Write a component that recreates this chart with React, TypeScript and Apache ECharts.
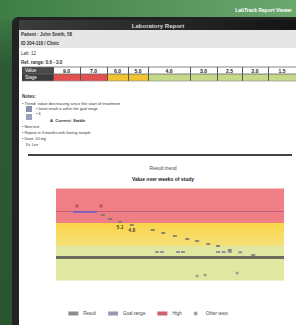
import React, { useEffect, useRef } from "react";
import * as echarts from "echarts";

// ---- data ----
const xLabelValues = [0, 1, 8, 18, 28, 30];
const trendX = [3.1, 3.7, 4.4, 5.0, 5.7, 6.3, 7.6, 8.8, 10.4, 12.3, 15.7, 17.4, 19.3, 21.3, 22.9, 24.7, 26.3, 28.2, 32.0];
const trendY = [5.96, 5.96, 5.96, 5.96, 5.96, 5.96, 5.7, 5.35, 5.09, 4.83, 4.39, 4.13, 3.87, 3.61, 3.43, 3.17, 3.0, 2.65, 2.22];
const targetX = [16.4, 17.2, 19.8, 20.6, 26.3, 27.2, 28.2, 29.9];
const targetY = [2.48, 2.48, 2.48, 2.48, 2.48, 2.48, 2.48, 2.45];
const lowX = [22.9, 24.2, 29.4];
const lowY = [0.39, 0.48, 0.65];
const highX = [3.4, 7.3];
const highY = [6.48, 6.48];
const bandRed = [5, 8];
const bandYellow = [3, 5];
const bandGreen = [0, 3];
const upperLimit = 6;
const goalLine = 2;
const labelledPoints = [8, 9];
const seriesNames = ["Result", "Goal range", "High", "Other tests"];
const tableHeader = ["9.0", "7.0", "6.0", "5.0", "4.0", "3.0", "2.5", "2.0", "1.5"];
const tableRowLabels = ["Value", "Stage"];

const FONT = "Liberation Sans";

function txt(x: number, y: number, text: string, o: any = {}) {
  return {
    type: "text",
    x,
    y,
    z: 5,
    style: {
      text,
      fontSize: o.size ?? 5,
      fontFamily: FONT,
      fontWeight: o.bold ? "bold" : "normal",
      fill: o.fill ?? "#333",
      textAlign: o.align ?? "left",
      textVerticalAlign: "middle",
    },
  };
}

function rect(x: number, y: number, w: number, h: number, fill: any, o: any = {}) {
  return {
    type: "rect",
    z: o.z ?? 1,
    shape: { x, y, width: w, height: h, r: o.r ?? 0 },
    style: { fill, stroke: o.stroke, lineWidth: o.lw ?? 0 },
  };
}

function buildGraphic() {
  const g: any[] = [];
  // green background
  g.push(
    rect(0, 0, 296, 325, new echarts.graphic.LinearGradient(0, 0, 0, 1, [
      { offset: 0, color: "#4f8e56" },
      { offset: 0.04, color: "#6aa86f" },
      { offset: 0.06, color: "#3d7845" },
      { offset: 0.2, color: "#2d5a34" },
      { offset: 1, color: "#2a5531" },
    ]), { z: 0 })
  );
  g.push(
    rect(0, 0, 296, 18, new echarts.graphic.LinearGradient(0, 0, 1, 0, [
      { offset: 0, color: "#3f7d47" },
      { offset: 1, color: "#6aa86e" },
    ]), { z: 0 })
  );
  g.push(txt(292, 10, "LabTrack Report Viewer", { fill: "#ffffff", size: 5, bold: true, align: "right" }));
  // frame
  g.push(rect(12, 17, 290, 320, "#222222", { r: [6, 0, 0, 0] }));
  g.push(
    rect(19, 20, 277, 10, new echarts.graphic.LinearGradient(0, 0, 1, 0, [
      { offset: 0, color: "#3c3c3c" },
      { offset: 1, color: "#141414" },
    ]))
  );
  g.push(txt(158, 26, "Laboratory Report", { fill: "#d8d8d8", size: 6, bold: true, align: "center" }));
  g.push(rect(19, 30, 277, 18, "#e6e6e6"));
  g.push(rect(19, 48, 277, 280, "#ffffff"));
  g.push(txt(21, 34, "Patient : John Smith, 58", { size: 4.5, bold: true }));
  g.push(txt(21, 43, "ID 204-118 / Clinic", { size: 4.5, bold: true }));
  g.push(txt(21, 53, "Lab: 12", { size: 4.5 }));
  g.push(txt(21, 62, "Ref. range: 0.6 - 3.0", { size: 4.5, bold: true }));
  // table
  const edges = [53, 80, 107, 128, 148, 190, 217, 242, 268, 296];
  g.push(rect(22, 67, 31, 7, "#4a4a4a"));
  g.push(rect(22, 74, 31, 7, "#3a3a3a"));
  g.push(txt(25, 70.5, tableRowLabels[0], { fill: "#fff", size: 4.5 }));
  g.push(txt(25, 77.5, tableRowLabels[1], { fill: "#fff", size: 4.5 }));
  for (let i = 0; i < tableHeader.length; i++) {
    const x0 = edges[i];
    const w = edges[i + 1] - x0;
    g.push(rect(x0, 67, w, 7, "#ffffff"));
    const fill = i < 2 ? "#e2514f" : i < 4 ? "#f1c232" : "#c6d98a";
    g.push(rect(x0, 74, w, 7, fill));
    g.push(txt(x0 + w / 2, 70.5, tableHeader[i], { bold: true, size: 5, align: "center", fill: "#222" }));
    g.push({ type: "line", z: 3, shape: { x1: x0 + 0.5, y1: 67, x2: x0 + 0.5, y2: 81 }, style: { stroke: "#555", lineWidth: 1 } });
  }
  g.push({ type: "line", z: 3, shape: { x1: 22, y1: 67, x2: 296, y2: 67 }, style: { stroke: "#666", lineWidth: 0.8 } });
  g.push({ type: "line", z: 3, shape: { x1: 22, y1: 74, x2: 296, y2: 74 }, style: { stroke: "#666", lineWidth: 0.8 } });
  g.push({ type: "line", z: 3, shape: { x1: 22, y1: 81, x2: 296, y2: 81 }, style: { stroke: "#888", lineWidth: 0.6 } });
  // notes
  g.push(txt(22, 96, "Notes:", { size: 4.5, bold: true }));
  g.push(txt(22, 103, "\u2022 Trend: value decreasing since the start of treatment", { size: 4.2 }));
  g.push(rect(26, 106, 6, 6, "#8a94b0"));
  g.push(txt(36, 109, "\u2022 latest result is within the goal range", { size: 3.8 }));
  g.push(txt(36, 114, "\u2022 6", { size: 3.8 }));
  g.push(rect(26, 114, 6, 6, "#9aa0b5"));
  g.push(txt(50, 120, "A  Current: Stable", { size: 4.2, bold: true }));
  g.push(txt(22, 127, "\u2022 Next test", { size: 3.8 }));
  g.push(txt(22, 133, "\u2022 Repeat in 3 months with fasting sample", { size: 3.8 }));
  g.push(txt(22, 139, "\u2022 Dose: 10 mg", { size: 3.8 }));
  g.push(txt(26, 145, "Dr. Lee", { size: 3.8 }));
  g.push({ type: "line", z: 3, shape: { x1: 28, y1: 155, x2: 292, y2: 155 }, style: { stroke: "#444", lineWidth: 2 } });
  return g;
}

export default function App() {
  const ref = useRef<HTMLDivElement>(null);
  useEffect(() => {
    if (!ref.current) return;
    const chart = echarts.init(ref.current, null, { renderer: "svg" });
    const trendData = trendX.map((x, i) => ({
      value: [x, trendY[i]],
      itemStyle: i < 6 ? { color: "#6a5acd" } : undefined,
      label: labelledPoints.includes(i)
        ? { show: true, position: "bottom", distance: 2, fontSize: 5, fontWeight: "bold", color: "#111", formatter: (p: any) => p.value[1].toFixed(1) }
        : undefined,
    }));
    chart.setOption({
      animation: false,
      textStyle: { fontFamily: FONT },
      graphic: { elements: buildGraphic() },
      title: {
        text: "Result trend",
        subtext: "Value over weeks of study",
        left: 158,
        textAlign: "center",
        top: 160,
        itemGap: 6,
        textStyle: { fontSize: 5, color: "#444", fontWeight: "normal", fontFamily: FONT },
        subtextStyle: { fontSize: 5, color: "#222", fontWeight: "bold", fontFamily: FONT },
        z: 10,
      },
      grid: { left: 56, top: 188.5, width: 228, height: 92 },
      xAxis: {
        type: "value",
        min: 0,
        max: 37,
        name: "Weeks of study",
        nameLocation: "middle",
        nameGap: 13,
        nameTextStyle: { fontSize: 5, fontWeight: "bold", color: "#333" },
        axisLine: { show: false },
        axisTick: { show: false },
        splitLine: { show: false },
        axisLabel: { customValues: xLabelValues, fontSize: 4.5, color: "#555", margin: 3 },
      },
      yAxis: {
        type: "value",
        min: 0,
        max: 8,
        interval: 2,
        name: "Value",
        nameLocation: "middle",
        nameGap: 10,
        nameTextStyle: { fontSize: 5, fontWeight: "bold", color: "#333" },
        axisLine: { show: false },
        axisTick: { show: false },
        splitLine: { show: false },
        axisLabel: { fontSize: 4.5, color: "#555", margin: 3 },
      },
      legend: {
        top: 306,
        left: "center",
        itemWidth: 10,
        itemHeight: 4,
        itemGap: 12,
        textStyle: { fontSize: 4.5, color: "#444" },
        data: seriesNames,
      },
      series: [
        {
          name: seriesNames[0],
          type: "scatter",
          symbol: "rect",
          symbolSize: [4, 2],
          itemStyle: { color: "#707070" },
          data: trendData,
          z: 5,
          markArea: {
            silent: true,
            label: { show: false },
            data: [
              [{ yAxis: bandRed[0], itemStyle: { color: "#ef7f84" } }, { yAxis: bandRed[1] }],
              [{
                yAxis: bandYellow[0],
                itemStyle: {
                  color: new echarts.graphic.LinearGradient(0, 0, 0, 1, [
                    { offset: 0, color: "#fbd54a" },
                    { offset: 1, color: "#f4e07a" },
                  ]),
                },
              }, { yAxis: bandYellow[1] }],
              [{ yAxis: bandGreen[0], itemStyle: { color: "#e0e7a0" } }, { yAxis: bandGreen[1] }],
            ],
          },
          markLine: {
            silent: true,
            symbol: "none",
            label: { show: false },
            data: [
              { yAxis: upperLimit, lineStyle: { color: "#c2607a", width: 1, type: "solid" } },
              { yAxis: goalLine, lineStyle: { color: "#6b6b5e", width: 3, type: "solid" } },
            ],
          },
        },
        {
          name: seriesNames[1],
          type: "scatter",
          symbol: "rect",
          symbolSize: [4, 2],
          itemStyle: { color: "#7d7d9c" },
          data: targetX.map((x, i) => [x, targetY[i]]),
          z: 5,
        },
        {
          name: seriesNames[2],
          type: "scatter",
          symbol: "rect",
          symbolSize: [3, 3],
          itemStyle: { color: "#c0394f" },
          data: highX.map((x, i) => [x, highY[i]]),
          z: 5,
        },
        {
          name: seriesNames[3],
          type: "scatter",
          symbolSize: 3,
          itemStyle: { color: "#888888" },
          data: lowX.map((x, i) => [x, lowY[i]]),
          z: 5,
        },
      ],
    });
    return () => chart.dispose();
  }, []);
  return <div ref={ref} style={{ position: "absolute", left: 0, top: 0, width: 296, height: 325 }} />;
}
